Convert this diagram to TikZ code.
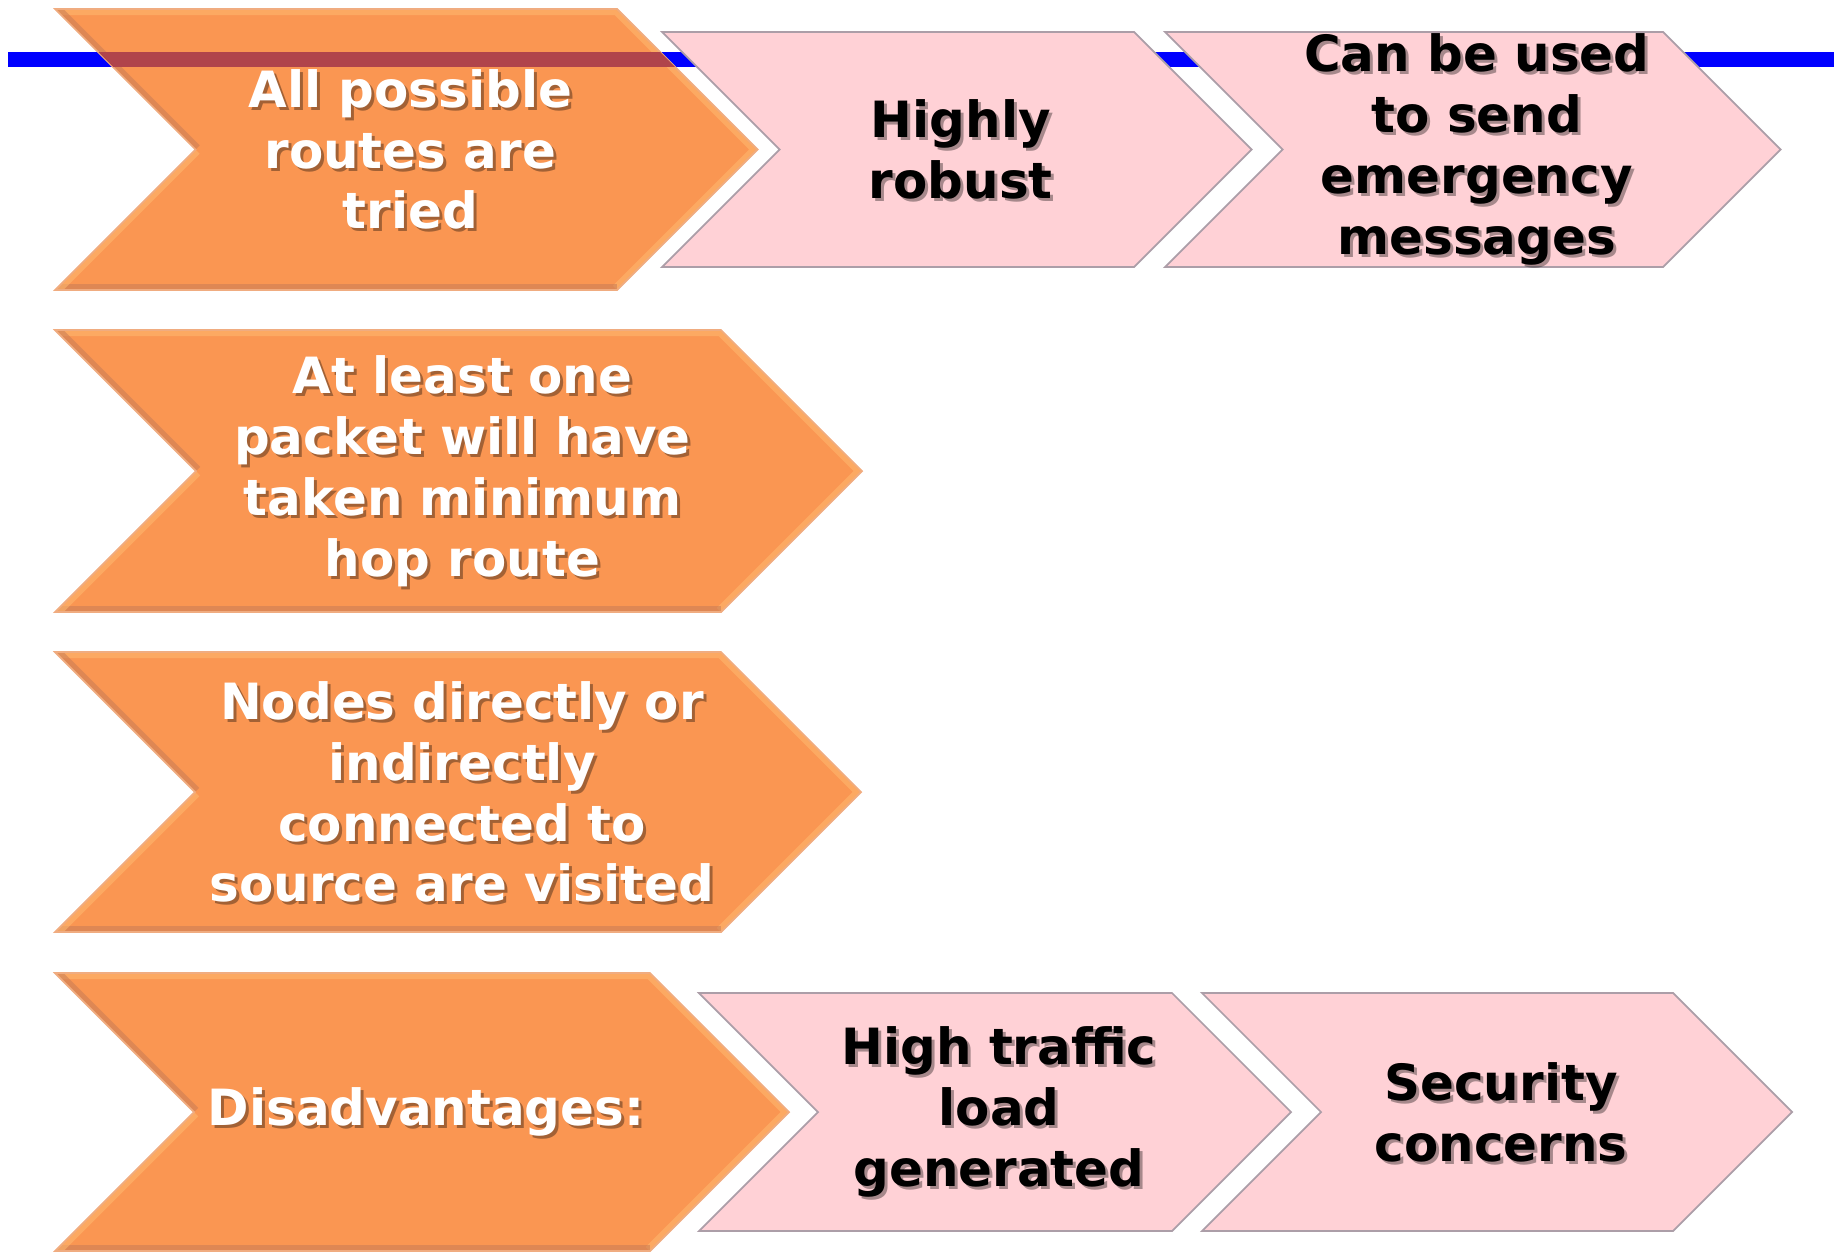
\documentclass[tikz,border=0pt]{standalone}
\usepackage{fontspec}
\setmainfont{DejaVu Sans}
\definecolor{lineblue}{RGB}{0,0,255}
\definecolor{chevorange}{RGB}{250,150,82}
\definecolor{orangelite}{RGB}{255,186,112}
\definecolor{orangedark}{RGB}{200,124,86}
\definecolor{orangeedge}{RGB}{240,172,128}
\definecolor{overlapred}{RGB}{176,68,75}
\definecolor{chevpink}{RGB}{255,209,214}
\definecolor{pinkedge}{RGB}{172,158,168}
\pgfdeclarelayer{background}
\pgfsetlayers{background,main}

\tikzset{
  chevtext/.style={align=center, inner sep=0pt, font=\bfseries\fontsize{14.2}{17.3}\selectfont},
  chevshadow/.style={chevtext, text=black, text opacity=.35},
  bevel/.style={line width=0.12cm, opacity=.55, line join=miter}
}

\begin{document}
\begin{tikzpicture}[x=0.01cm, y=-0.01cm]
\useasboundingbox (0,0) rectangle (1843,1251);

% blue rule behind the first row
\begin{pgfonlayer}{background}
\fill[lineblue] (8,52) rectangle (1834,67);
\end{pgfonlayer}

% chevrons: name/left/top/right/bottom/fill/text/lite/dark/edge/label
\foreach \nm/\lx/\ty/\rx/\by/\fc/\tc/\hic/\loc/\ec/\txt in {
  adv1/55/9/617/290/chevorange/white/orangelite/orangedark/orangeedge/{All possible\\routes are\\tried},
  pro1/662/32/1134/267/chevpink/black/chevpink/chevpink/pinkedge/{Highly\\robust},
  pro2/1165/32/1663/267/chevpink/black/chevpink/chevpink/pinkedge/{Can be used\\to send\\emergency\\messages},
  adv2/55/330/721/612/chevorange/white/orangelite/orangedark/orangeedge/{At least one\\packet will have\\taken minimum\\hop route},
  adv3/55/652/721/932/chevorange/white/orangelite/orangedark/orangeedge/{Nodes directly or\\indirectly\\connected to\\source are visited},
  dis0/55/973/650/1251/chevorange/white/orangelite/orangedark/orangeedge/{Disadvantages:},
  dis1/699/993/1172/1231/chevpink/black/chevpink/chevpink/pinkedge/{High traffic\\load\\generated},
  dis2/1202/993/1673/1231/chevpink/black/chevpink/chevpink/pinkedge/{Security\\concerns}}{
  \pgfmathsetmacro\dd{(\by-\ty)/2}
  \pgfmathsetmacro\my{(\ty+\by)/2}
  \pgfmathsetmacro\nx{\lx+\dd}
  \pgfmathsetmacro\tx{\rx+\dd}
  \pgfmathsetmacro\cx{(\nx+\rx)/2+4}
  \begin{pgfonlayer}{background}
  \fill[fill=\fc] (\lx,\ty) -- (\rx,\ty) -- (\tx,\my) -- (\rx,\by) -- (\lx,\by) -- (\nx,\my) -- cycle;
  \begin{scope}
    \clip (\lx,\ty) -- (\rx,\ty) -- (\tx,\my) -- (\rx,\by) -- (\lx,\by) -- (\nx,\my) -- cycle;
    \draw[bevel, draw=\hic] (\lx,\ty) -- (\rx,\ty) -- (\tx,\my) -- (\rx,\by);
    \draw[bevel, draw=\loc] (\rx,\by) -- (\lx,\by);
    \draw[bevel, draw=\loc] (\lx,\ty) -- (\nx,\my);
    \draw[bevel, draw=\hic] (\nx,\my) -- (\lx,\by);
  \end{scope}
  \draw[draw=\ec, line width=0.5pt, line join=miter] (\lx,\ty) -- (\rx,\ty) -- (\tx,\my) -- (\rx,\by) -- (\lx,\by) -- (\nx,\my) -- cycle;
  \end{pgfonlayer}
  \node[chevshadow] at (\cx+3,\my+3) {\txt};
  \node[chevtext, text=\tc] (\nm) at (\cx,\my) {\txt};
}

% blue rule seen through the first orange chevron
\begin{pgfonlayer}{background}
\begin{scope}
  \clip (55,9) -- (617,9) -- (757.5,149.5) -- (617,290) -- (55,290) -- (196.5,149.5) -- cycle;
  \fill[overlapred] (8,52) rectangle (1834,67);
\end{scope}
\end{pgfonlayer}
\end{tikzpicture}
\end{document}
